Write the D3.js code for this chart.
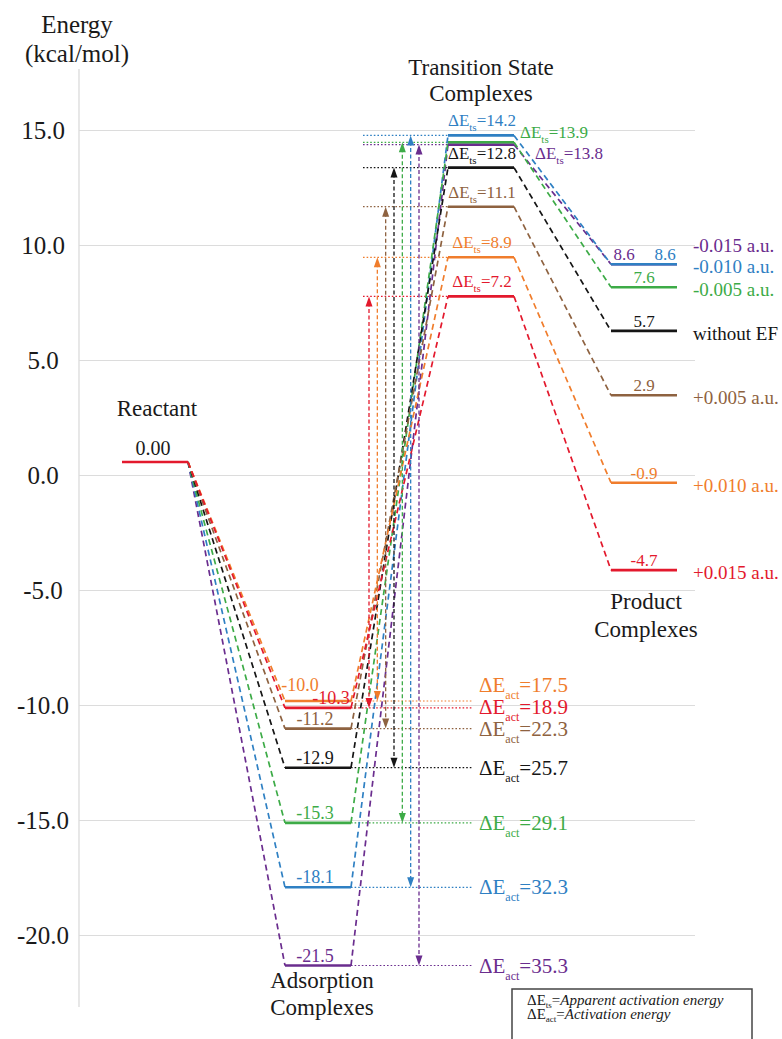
<!DOCTYPE html>
<html>
<head>
<meta charset="utf-8">
<script src="https://cdn.jsdelivr.net/npm/d3@7"></script>
<style>
  body { margin: 0; background: #fff; }
  svg text { font-family: 'Liberation Serif', Tinos, 'Times New Roman', Times, 'DejaVu Serif', serif; }
</style>
</head>
<body>
<svg id="chart" width="782" height="1039" font-family="'Liberation Serif', Tinos, 'Times New Roman', Times, 'DejaVu Serif', serif"></svg>
<script>
// ---- data ----
const fieldLabels = ["+0.015 a.u.", "+0.010 a.u.", "+0.005 a.u.", "without EF", "-0.005 a.u.", "-0.010 a.u.", "-0.015 a.u."];
const seriesColors = ["#e3192d", "#f07d2c", "#8e6240", "#151515", "#3dab47", "#2f80c3", "#6a2d8e"];
const reactantEnergy = 0.00;
const adsorptionEnergy = [-10.3, -10.0, -11.2, -12.9, -15.3, -18.1, -21.5];
const transitionEnergy = [7.2, 8.9, 11.1, 12.8, 13.9, 14.2, 13.8];
const productEnergy = [-4.7, -0.9, 2.9, 5.7, 7.6, 8.6, 8.6];
const activationLabels = [18.9, 17.5, 22.3, 25.7, 29.1, 32.3, 35.3];
const stageNames = ["Reactant", "Adsorption", "Transition", "Product"];
const tickValues = [15, 10, 5, 0, -5, -10, -15, -20];

const series = fieldLabels.map((f, i) => ({
  i, field: f, color: seriesColors[i],
  ads: adsorptionEnergy[i], ts: transitionEnergy[i], prod: productEnergy[i], act: activationLabels[i]
}));

const svg = d3.select("#chart");
const serif = "'Liberation Serif', Tinos, 'Times New Roman', Times, 'DejaVu Serif', serif";

// ---- scales ----
const y = d3.scaleLinear().domain([-20, 15]).range([935, 130]);
const x = d3.scalePoint().domain(stageNames).range([155, 644]);
const halfW = 33;
// the schematic levels sit slightly above their gridline positions
const lift = { Reactant: 13, Adsorption: 4, Transition: 13, Product: 13 };
const ly = (stage, v) => y(v) - lift[stage];
const arrowX = d3.scaleLinear().domain([0, series.length - 1]).range([369, 419]);

// ---- axis & grid ----
const axisX = 79;
svg.append("line").attr("x1", axisX).attr("x2", axisX).attr("y1", 69).attr("y2", 1007)
  .attr("stroke", "#d8d8d8").attr("stroke-width", 1.2);

const axisG = svg.append("g").attr("transform", `translate(${axisX},0)`)
  .call(d3.axisLeft(y).tickValues(tickValues).tickSize(-616).tickPadding(36)
    .tickFormat(d => d.toFixed(1)));
axisG.attr("font-family", serif);
axisG.select(".domain").remove();
axisG.selectAll(".tick line").attr("stroke", "#dcdcdc").attr("stroke-width", 1.2);
axisG.selectAll(".tick text")
  .attr("font-family", serif).attr("font-size", 25).attr("fill", "#1a1a1a")
  .attr("text-anchor", "middle").attr("dy", "0.34em");

svg.append("text").attr("x", 77).attr("y", 33).attr("text-anchor", "middle")
  .attr("font-size", 25).attr("fill", "#1a1a1a").text("Energy");
svg.append("text").attr("x", 77).attr("y", 62).attr("text-anchor", "middle")
  .attr("font-size", 25).attr("fill", "#1a1a1a").text("(kcal/mol)");

// ---- stage titles ----
const titleStyle = t => t.attr("text-anchor", "middle").attr("font-size", 23).attr("fill", "#1a1a1a");
svg.append("text").attr("x", x("Reactant") + 2).attr("y", ly("Reactant", reactantEnergy) - 46).call(titleStyle).text("Reactant");
svg.append("text").attr("x", x("Transition")).attr("y", 75).call(titleStyle).text("Transition State");
svg.append("text").attr("x", x("Transition")).attr("y", 101).call(titleStyle).text("Complexes");
svg.append("text").attr("x", x("Product") + 2).attr("y", 609).call(titleStyle).text("Product");
svg.append("text").attr("x", x("Product") + 2).attr("y", 637).call(titleStyle).text("Complexes");
svg.append("text").attr("x", x("Adsorption") + 4).attr("y", 988).call(titleStyle).text("Adsorption");
svg.append("text").attr("x", x("Adsorption") + 4).attr("y", 1015).call(titleStyle).text("Complexes");

// draw order: purple first, red last
const drawOrder = series.slice().reverse();

// ---- dotted guide lines ----
const guides = svg.append("g");
drawOrder.forEach(s => {
  guides.append("line")
    .attr("x1", 363).attr("x2", x("Transition") - halfW)
    .attr("y1", ly("Transition", s.ts)).attr("y2", ly("Transition", s.ts))
    .attr("stroke", s.color).attr("stroke-width", 1.2).attr("stroke-dasharray", "1.6,2");
  guides.append("line")
    .attr("x1", x("Adsorption") + halfW).attr("x2", 473)
    .attr("y1", ly("Adsorption", s.ads)).attr("y2", ly("Adsorption", s.ads))
    .attr("stroke", s.color).attr("stroke-width", 1.2).attr("stroke-dasharray", "1.6,2");
});

// ---- dashed connectors ----
const conn = svg.append("g");
drawOrder.forEach(s => {
  const pts = [
    [x("Reactant") + halfW, ly("Reactant", reactantEnergy)],
    [x("Adsorption") - halfW, ly("Adsorption", s.ads)],
    null,
    [x("Adsorption") + halfW, ly("Adsorption", s.ads)],
    [x("Transition") - halfW, ly("Transition", s.ts)],
    null,
    [x("Transition") + halfW, ly("Transition", s.ts)],
    [x("Product") - halfW, ly("Product", s.prod)]
  ];
  const line = d3.line().defined(d => d !== null);
  conn.append("path").attr("d", line(pts)).attr("fill", "none")
    .attr("stroke", s.color).attr("stroke-width", 1.7).attr("stroke-dasharray", "6,4");
});

// ---- activation arrows ----
const arrows = svg.append("g");
drawOrder.forEach(s => {
  const ax = arrowX(s.i);
  const yTop = ly("Transition", s.ts), yBot = ly("Adsorption", s.ads);
  arrows.append("line").attr("x1", ax).attr("x2", ax).attr("y1", yTop + 6).attr("y2", yBot - 6)
    .attr("stroke", s.color).attr("stroke-width", 1.3).attr("stroke-dasharray", "4,2.5");
  arrows.append("path").attr("d", `M${ax},${yTop} L${ax - 3.5},${yTop + 10} L${ax + 3.5},${yTop + 10} Z`).attr("fill", s.color);
  arrows.append("path").attr("d", `M${ax},${yBot} L${ax - 3.5},${yBot - 10} L${ax + 3.5},${yBot - 10} Z`).attr("fill", s.color);
});

// ---- energy levels ----
const levels = svg.append("g");
function level(stage, v, color) {
  levels.append("line")
    .attr("x1", x(stage) - halfW).attr("x2", x(stage) + halfW)
    .attr("y1", ly(stage, v)).attr("y2", ly(stage, v))
    .attr("stroke", color).attr("stroke-width", 2.6);
}
drawOrder.forEach(s => {
  level("Adsorption", s.ads, s.color);
  level("Transition", s.ts, s.color);
  level("Product", s.prod, s.color);
});
level("Reactant", reactantEnergy, seriesColors[0]);

// ---- value labels ----
const labels = svg.append("g");
labels.append("text").attr("x", x("Reactant") - 2).attr("y", ly("Reactant", reactantEnergy) - 7)
  .attr("text-anchor", "middle").attr("font-size", 20).attr("fill", "#1a1a1a").text(reactantEnergy.toFixed(2));

const adsNudge = { 0: 13, 1: -18 };
series.forEach(s => {
  labels.append("text")
    .attr("x", x("Adsorption") + (adsNudge[s.i] || -3))
    .attr("y", ly("Adsorption", s.ads) - (s.i === 1 ? 10 : 4))
    .attr("text-anchor", "middle").attr("font-size", 18).attr("fill", s.color)
    .text(s.ads.toFixed(1));
});

const prodNudge = { 5: 21, 6: -20 };
series.forEach(s => {
  labels.append("text")
    .attr("x", x("Product") + (prodNudge[s.i] || 0))
    .attr("y", ly("Product", s.prod) - 4)
    .attr("text-anchor", "middle").attr("font-size", 17).attr("fill", s.color)
    .text(s.prod.toFixed(1));
});

// text with a subscripted part: ΔE<sub>=value
function deltaText(sel, sub, value, fs, subFs, drop) {
  sel.attr("font-size", fs);
  sel.append("tspan").text("ΔE");
  sel.append("tspan").attr("font-size", subFs).attr("dy", drop).text(sub);
  sel.append("tspan").attr("dy", -drop).text("=" + value);
}

series.forEach(s => {
  const t = labels.append("text").attr("fill", s.color);
  const lv = ly("Transition", s.ts);
  if (s.i === 4) {
    t.attr("x", x("Transition") + halfW + 6).attr("y", lv - 4).attr("text-anchor", "start");
  } else if (s.i === 6) {
    t.attr("x", x("Transition") + halfW + 21).attr("y", lv + 14).attr("text-anchor", "start");
  } else {
    t.attr("x", x("Transition") + 1).attr("y", lv - 9).attr("text-anchor", "middle");
  }
  deltaText(t, "ts", s.ts.toFixed(1), 17, 11, 5);
});

// push stacked labels upward so they do not collide
function relaxUp(items, gap) {
  const sorted = items.slice().sort((a, b) => b.y - a.y || a.i - b.i);
  for (let k = 1; k < sorted.length; k++) {
    if (sorted[k - 1].y - sorted[k].y < gap) sorted[k].y = sorted[k - 1].y - gap;
  }
  return items;
}

const actPos = relaxUp(series.map(s => ({ i: s.i, y: ly("Adsorption", s.ads) })), 22);
series.forEach(s => {
  const t = labels.append("text").attr("fill", s.color)
    .attr("x", 479).attr("y", actPos[s.i].y + 7).attr("text-anchor", "start");
  deltaText(t, "act", s.act.toFixed(1), 21, 12, 7);
});

const fieldPos = relaxUp(series.map(s => ({ i: s.i, y: ly("Product", s.prod) + 3 })), 21);
series.forEach(s => {
  labels.append("text").attr("x", 693).attr("y", fieldPos[s.i].y + 6)
    .attr("font-size", 19).attr("fill", s.color).text(s.field);
});

// ---- key box ----
const key = svg.append("g");
key.append("rect").attr("x", 512).attr("y", 989).attr("width", 240).attr("height", 70)
  .attr("fill", "#fff").attr("stroke", "#444").attr("stroke-width", 1.5);
const keyRows = [["ts", "Apparent activation energy"], ["act", "Activation energy"]];
keyRows.forEach((r, k) => {
  const t = key.append("text").attr("x", 527).attr("y", 1005 + k * 14)
    .attr("font-size", 15).attr("fill", "#1a1a1a");
  t.append("tspan").text("ΔE");
  t.append("tspan").attr("font-size", 9).attr("dy", 3).text(r[0]);
  t.append("tspan").attr("dy", -3).text("=");
  t.append("tspan").attr("font-style", "italic").text(r[1]);
});
</script>
</body>
</html>
